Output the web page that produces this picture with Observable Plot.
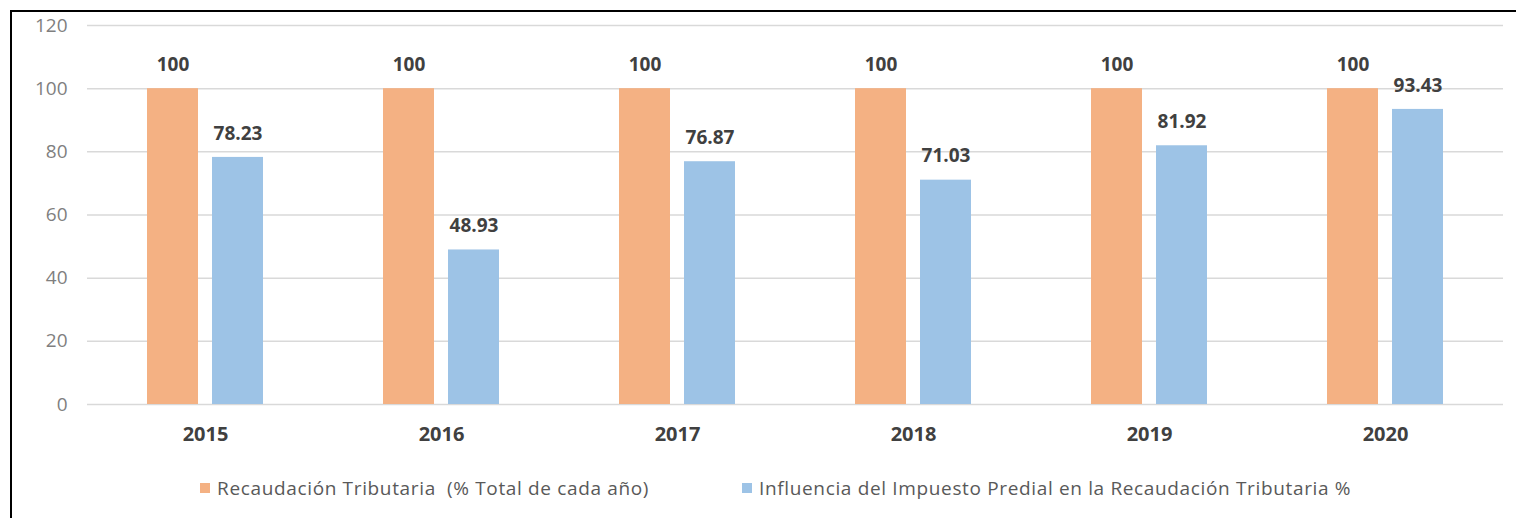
<!DOCTYPE html>
<html>
<head>
<meta charset="utf-8">
<script src="https://cdn.jsdelivr.net/npm/d3@7"></script>
<script src="https://cdn.jsdelivr.net/npm/@observablehq/plot@0.6"></script>
<style>
  html, body { margin: 0; padding: 0; background: #fff; }
  body { width: 1516px; height: 518px; overflow: hidden; font-family: "Open Sans", sans-serif; }
  #frame { position: absolute; left: 10px; top: 10px; width: 1506px; height: 508px;
           border-top: 2px solid #000; border-left: 2px solid #000; box-sizing: border-box; }
  #legend { position: absolute; top: 463px; left: 0; width: 1504px; height: 30px; font-size: 19px; letter-spacing: 0.65px; color: #595959; }
  .item { position: absolute; top: 0; display: flex; align-items: center; white-space: pre; }
  .sw { width: 10px; height: 10px; margin-right: 7px; }
</style>
</head>
<body>
<div id="frame">
  <div id="chart"></div>
  <div id="legend"></div>
</div>
<script>
const years = ["2015", "2016", "2017", "2018", "2019", "2020"];
const recaudacion = [100, 100, 100, 100, 100, 100];
const influencia = [78.23, 48.93, 76.87, 71.03, 81.92, 93.43];
const seriesNames = ["Recaudación Tributaria  (% Total de cada año)", "Influencia del Impuesto Predial en la Recaudación Tributaria %"];
const seriesKeys = ["A", "B"];
const colors = ["#F4B183", "#9DC3E6"];
const yTicks = [0, 20, 40, 60, 80, 100, 120];
const labels = [
  ["100", "100", "100", "100", "100", "100"],
  ["78.23", "48.93", "76.87", "71.03", "81.92", "93.43"]
];

const data = [];
years.forEach((yr, i) => {
  data.push({year: yr, key: "A", value: recaudacion[i], label: labels[0][i]});
  data.push({year: yr, key: "B", value: influencia[i], label: labels[1][i]});
});

const chart = Plot.plot({
  width: 1504,
  height: 452,
  marginTop: 13,
  marginBottom: 60,
  marginLeft: 73,
  marginRight: 11,
  style: {fontFamily: "Open Sans, sans-serif", background: "#fff"},
  fx: {domain: years, padding: 0, label: null},
  x: {domain: seriesKeys, paddingInner: 0.22, paddingOuter: 0.9, axis: null},
  y: {domain: [0, 120], label: null},
  color: {domain: seriesKeys, range: colors},
  marks: [
    Plot.ruleY(yTicks, {stroke: "#d9d9d9", strokeWidth: 1.5, facetAnchor: null}),
    Plot.axisY(yTicks, {tickSize: 0, tickPadding: 20, fontSize: 19, fill: "#7f7f7f", label: null}),
    Plot.axisFx({anchor: "bottom", tickSize: 0, tickPadding: 22, fontSize: 20, fontWeight: "bold", fill: "#404040", label: null}),
    Plot.barY(data, {fx: "year", x: "key", y: "value", fill: "key"}),
    Plot.text(data, {fx: "year", x: "key", y: "value", text: "label", dy: -24, fontSize: 19, fontWeight: "bold", fill: "#404040"})
  ]
});
document.getElementById("chart").appendChild(chart);

const legend = document.getElementById("legend");
const lefts = [188, 730];
seriesNames.forEach((name, i) => {
  const item = document.createElement("div");
  item.className = "item";
  item.style.left = lefts[i] + "px";
  const sw = document.createElement("span");
  sw.className = "sw";
  sw.style.background = colors[i];
  const t = document.createElement("span");
  t.textContent = name;
  item.appendChild(sw);
  item.appendChild(t);
  legend.appendChild(item);
});
</script>
</body>
</html>
